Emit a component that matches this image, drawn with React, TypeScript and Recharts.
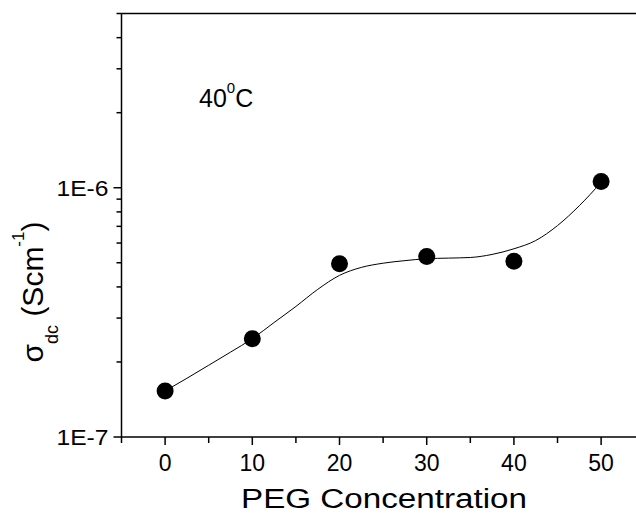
import React from 'react';
import { ComposedChart, Line, Scatter, XAxis, YAxis, ReferenceLine } from 'recharts';

// Measured data points (PEG concentration vs sigma_dc at 40 C)
const concentrations = [0, 10, 20, 30, 40, 50];
const sigmaValues = [1.53e-7, 2.48e-7, 4.95e-7, 5.3e-7, 5.07e-7, 1.06e-6];

// Smooth guide curve
const curveX = [0, 2.5, 5, 7.5, 10, 12.5, 15, 17.5, 20, 22.5, 25, 27.5, 30, 32.5, 35, 37.5, 40, 42.5, 45, 47.5, 50];
const curveY = [1.53e-7, 1.72e-7, 1.94e-7, 2.19e-7, 2.48e-7, 2.88e-7, 3.34e-7, 3.91e-7, 4.45e-7, 4.79e-7, 4.98e-7, 5.1e-7, 5.19e-7, 5.22e-7, 5.25e-7, 5.4e-7, 5.69e-7, 6.14e-7, 7.05e-7, 8.47e-7, 1.05e-6];

// Axis ticks
const xTicks = [-5, 0, 5, 10, 15, 20, 25, 30, 35, 40, 45, 50];
const xMajorTicks = [0, 10, 20, 30, 40, 50];
const xMajorLabels = ['0', '10', '20', '30', '40', '50'];
const yTicks = [1e-7, 2e-7, 3e-7, 4e-7, 5e-7, 6e-7, 7e-7, 8e-7, 9e-7, 1e-6, 2e-6, 3e-6, 4e-6, 5e-6];
const yMajorTicks = [1e-7, 1e-6];
const yMajorLabels = ['1E-7', '1E-6'];

const xTitle = 'PEG Concentration';
const yTitle = { main: 'σ', sub: 'dc', mid: ' (Scm', sup: '-1', tail: ')' };
const annotation = { main: '40', sup: '0', tail: 'C' };

const pointData = concentrations.map((x, i) => ({ x, y: sigmaValues[i] }));
const curveData = curveX.map((x, i) => ({ x, y: curveY[i] }));

const FONT = '"Liberation Sans", Arial, Helvetica, sans-serif';

const XTick = (props: any) => {
  const { x, y, payload } = props;
  const idx = xMajorTicks.indexOf(payload.value);
  const major = idx >= 0;
  return (
    <g>
      <line x1={x} x2={x} y1={y} y2={y + (major ? 8 : 6)} stroke="#000" strokeWidth={1.5} />
      {major && (
        <text x={x} y={y + 34} textAnchor="middle" fontSize={23} fontFamily={FONT} fill="#000">
          {xMajorLabels[idx]}
        </text>
      )}
    </g>
  );
};

const YTick = (props: any) => {
  const { x, y, payload } = props;
  const v = payload.value;
  const idx = yMajorTicks.findIndex((t) => Math.abs(Math.log10(t) - Math.log10(v)) < 1e-6);
  const major = idx >= 0;
  return (
    <g>
      <line x1={x - (major ? 8 : 5)} x2={x} y1={y} y2={y} stroke="#000" strokeWidth={1.5} />
      {major && (
        <text
          x={x - 13}
          y={y + 8}
          textAnchor="end"
          fontSize={22}
          fontFamily={FONT}
          fill="#000"
          textLength={52}
          lengthAdjust="spacingAndGlyphs"
        >
          {yMajorLabels[idx]}
        </text>
      )}
    </g>
  );
};

const YTitle = () => (
  <g transform="translate(42.5, 292) rotate(-90)">
    <text x={0} y={0} textAnchor="middle" fontSize={30} fontFamily={FONT} fill="#000">
      <tspan>{yTitle.main}</tspan>
      <tspan fontSize={18} dy={15}>{yTitle.sub}</tspan>
      <tspan dy={-15}>{yTitle.mid}</tspan>
      <tspan fontSize={17} dy={-19}>{yTitle.sup}</tspan>
      <tspan dy={19}>{yTitle.tail}</tspan>
    </text>
  </g>
);

const XTitle = () => (
  <g transform="translate(384, 507.5) scale(1.23, 1)">
    <text x={0} y={0} textAnchor="middle" fontSize={27} fontFamily={FONT} fill="#000">
      {xTitle}
    </text>
  </g>
);

const Dot = (props: any) => <circle cx={props.cx} cy={props.cy} r={8.5} fill="#000" />;

export default function App() {
  return (
    <div style={{ position: 'absolute', left: 0, top: 0, width: 636, height: 514, background: '#fff' }}>
      <ComposedChart width={636} height={514} margin={{ top: 13.5, right: 0, bottom: 0, left: 0 }}>
        <XAxis
          dataKey="x"
          type="number"
          domain={[-5, 54]}
          ticks={xTicks}
          interval={0}
          allowDataOverflow
          height={77}
          tickSize={0}
          tickMargin={0}
          tick={<XTick />}
          axisLine={{ stroke: '#000', strokeWidth: 1.5 }}
          label={{ content: () => <XTitle /> }}
        />
        <YAxis
          dataKey="y"
          type="number"
          scale="log"
          domain={[1e-7, 5e-6]}
          ticks={yTicks}
          interval={0}
          allowDataOverflow
          width={121.5}
          tickSize={0}
          tickMargin={0}
          tick={<YTick />}
          axisLine={{ stroke: '#000', strokeWidth: 1.5 }}
          label={{ content: () => <YTitle /> }}
        />
        <ReferenceLine y={5e-6} stroke="#000" strokeWidth={1.5} />
        <Line
          data={curveData}
          dataKey="y"
          type="monotone"
          stroke="#000"
          strokeWidth={1}
          dot={false}
          activeDot={false}
          isAnimationActive={false}
        />
        <Scatter data={pointData} dataKey="y" fill="#000" shape={<Dot />} isAnimationActive={false} />
        <text x={199} y={106.7} fontSize={25} fontFamily={FONT} fill="#000">
          <tspan>{annotation.main}</tspan>
          <tspan fontSize={15} dy={-14}>{annotation.sup}</tspan>
          <tspan dy={14}>{annotation.tail}</tspan>
        </text>
      </ComposedChart>
    </div>
  );
}
